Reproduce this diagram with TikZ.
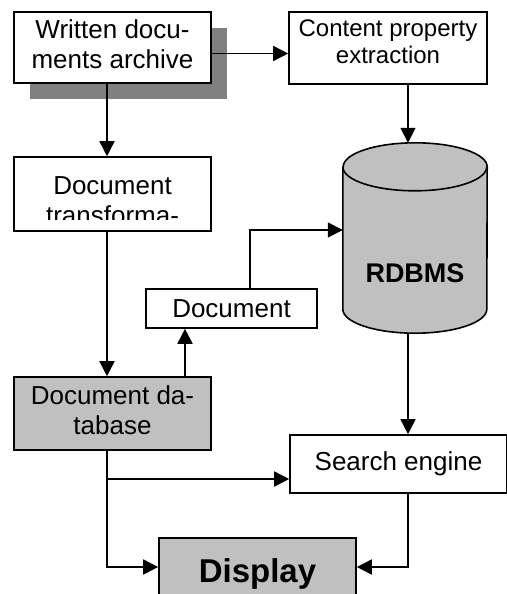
\documentclass[tikz,border=0pt]{standalone}
\usepackage{fontspec}
\setmainfont{Liberation Sans}
\usetikzlibrary{arrows.meta,shadows}
\definecolor{boxgray}{HTML}{C0C0C0}
\definecolor{shadowgray}{HTML}{808080}
\newcommand{\boxfont}{\fontsize{26}{30}\selectfont}
\newcommand{\contentfont}{\fontsize{24}{27.5}\selectfont}
\newcommand{\rdbmsfont}{\fontsize{27}{30}\selectfont\bfseries}
\newcommand{\displayfont}{\fontsize{33}{36}\selectfont\bfseries}
\newcommand{\lowpad}[1]{\rule[-#1]{0pt}{#1}}
\begin{document}
\begin{tikzpicture}[x=1pt,y=-1pt]
\tikzstyle{box_style} = [draw=black, line width=1.6pt, fill=white, inner sep=0pt, align=center, font=\boxfont]
\tikzstyle{gray_style} = [box_style, fill=boxgray]
\tikzstyle{db_style} = [black, line width=1.6pt]
\tikzstyle{arrow_style} = [black, line width=1.6pt, -{Triangle[length=15pt,width=15pt]}]
\tikzstyle{line_style} = [black, line width=1.6pt]
    \useasboundingbox (0,0) rectangle (506,594);

    \node[box_style, minimum width=197pt, minimum height=71pt,
          drop shadow={shadow xshift=16pt, shadow yshift=-16pt, fill=shadowgray, opacity=1}] (wda) at (112.5,47.5) {Written docu-\\ments archive\lowpad{6pt}};
    \node[box_style, font=\contentfont, minimum width=198pt, minimum height=72pt] (content) at (388,48) {Content property\\extraction\lowpad{13pt}};
    \node[box_style, minimum width=197pt, minimum height=74pt,
          path picture={
            \clip (path picture bounding box.north west) rectangle ([yshift=12pt]path picture bounding box.south east);
            \node[anchor=north, inner sep=0pt, align=center, font=\boxfont] at ([yshift=-6pt]path picture bounding box.north) {Document\\transforma-};
          }] (trans) at (112.5,194) {};

    % database cylinder
    \node[inner sep=0pt, minimum width=144pt, minimum height=190pt] (rdbms) at (415,238) {};
    \draw[db_style, fill=boxgray] ([yshift=-24pt]rdbms.north west) -- ([yshift=24pt]rdbms.south west)
        arc[start angle=180, end angle=360, x radius=72pt, y radius=24pt]
        -- ([yshift=-24pt]rdbms.north east)
        arc[start angle=0, end angle=180, x radius=72pt, y radius=24pt] -- cycle;
    \draw[db_style] ([yshift=-24pt]rdbms.north west) arc[start angle=180, end angle=360, x radius=72pt, y radius=24pt];
    \node[font=\rdbmsfont] (rdbms_text) at (415,273) {RDBMS};

    \node[box_style, minimum width=171pt, minimum height=39pt] (doc) at (231.5,308.5) {Document};
    \node[gray_style, minimum width=197pt, minimum height=73pt] (docdb) at (112.5,413.5) {Document da-\\tabase\lowpad{6pt}};
    \node[box_style, minimum width=217pt, minimum height=58pt] (search) at (398.5,464) {Search engine};
    \node[gray_style, font=\displayfont, text height=31pt, text depth=0pt, minimum width=197pt, minimum height=58pt] (display) at (257.5,567) {Display};

    \coordinate (lx) at (107,0);
    \coordinate (mx) at (185,0);
    \coordinate (dx) at (250,0);
    \coordinate (rx) at (408,0);
    \coordinate (branch) at (107,479);

    \draw[arrow_style] ([yshift=-6pt]wda.east) -- ([yshift=-6pt]wda.east -| content.west);
    \draw[arrow_style] (wda.south -| lx) -- (trans.north -| lx);
    \draw[arrow_style] (content.south -| rx) -- (rdbms.north -| rx);
    \draw[arrow_style] (trans.south -| lx) -- (docdb.north -| lx);
    \draw[arrow_style] (docdb.north -| mx) -- (doc.south -| mx);
    \draw[arrow_style] (doc.north -| dx) |- ([yshift=8pt]rdbms.west);
    \draw[arrow_style] (rdbms.south -| rx) -- (search.north -| rx);
    \draw[line_style] (docdb.south -| lx) -- (branch);
    \draw[arrow_style] (branch) -- (branch -| search.west);
    \draw[arrow_style] (branch) |- (display.west);
    \draw[arrow_style] (search.south -| rx) |- (display.east);
\end{tikzpicture}
\end{document}
